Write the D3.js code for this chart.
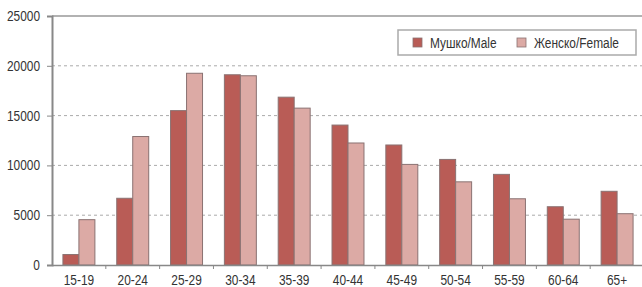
<!DOCTYPE html>
<html>
<head>
<meta charset="utf-8">
<script src="https://cdn.jsdelivr.net/npm/d3@7"></script>
<style>
  body { margin: 0; background: #fff; }
  text { font-family: "Liberation Sans", Arial, sans-serif; fill: #333; }
</style>
</head>
<body>
<svg id="mainSvg" width="642" height="287"></svg>
<script>
var ageGroups = ["15-19","20-24","25-29","30-34","35-39","40-44","45-49","50-54","55-59","60-64","65+"];
var seriesNames = ["Мушко/Male","Женско/Female"];
var maleValues = [1050, 6700, 15500, 19100, 16850, 14050, 12050, 10600, 9100, 5850, 7400];
var femaleValues = [4550, 12900, 19250, 19000, 15750, 12250, 10100, 8350, 6650, 4600, 5150];
var yTicks = [0, 5000, 10000, 15000, 20000, 25000];
var seriesColors = ["#b95c56", "#dcaaa5"];

var svg = d3.select("#mainSvg");

var plotLeft = 52, plotRight = 644, plotTop = 16, plotBottom = 265;

var x = d3.scaleBand().domain(ageGroups).range([plotLeft, plotRight]).padding(0);
var bw = x.bandwidth();
var xs = d3.scaleBand().domain([0,1]).range([bw*0.203, bw*0.797]).padding(0);
var y = d3.scaleLinear().domain([0, 25000]).range([plotBottom, plotTop]);

// squeeze text horizontally like the narrow font in the original
function condense(sel){
    sel.each(function(){
        var len = this.getComputedTextLength();
        d3.select(this).attr("textLength", len * 0.85).attr("lengthAdjust", "spacingAndGlyphs");
    });
}

// grid lines
svg.append("g")
    .selectAll("line")
    .data(yTicks.filter(function(d){ return d > 0 && d < 25000; }))
    .enter()
    .append("line")
    .attr("x1", plotLeft)
    .attr("x2", plotRight)
    .attr("y1", function(d){ return y(d); })
    .attr("y2", function(d){ return y(d); })
    .attr("stroke", "#aaa")
    .attr("stroke-width", 1)
    .attr("stroke-dasharray", "3,3");

// top border
svg.append("line")
    .attr("x1", plotLeft).attr("x2", plotRight)
    .attr("y1", y(25000)).attr("y2", y(25000))
    .attr("stroke", "#999").attr("stroke-width", 1.5);

// bars
var rows = ageGroups.map(function(a, i){
    return { age: a, vals: [maleValues[i], femaleValues[i]] };
});

var groups = svg.append("g").selectAll("g")
    .data(rows)
    .enter()
    .append("g")
    .attr("transform", function(d){ return "translate(" + x(d.age) + ",0)"; });

groups.selectAll("rect")
    .data(function(d){ return d.vals; })
    .enter()
    .append("rect")
    .attr("x", function(d, i){ return xs(i); })
    .attr("y", function(d){ return y(d); })
    .attr("width", xs.bandwidth())
    .attr("height", function(d){ return plotBottom - y(d); })
    .attr("fill", function(d, i){ return seriesColors[i]; })
    .attr("stroke", "#8a7272")
    .attr("stroke-width", 1);

// y axis
var yAxis = svg.append("g")
    .attr("transform", "translate(" + plotLeft + ",0)")
    .call(d3.axisLeft(y).tickValues(yTicks).tickSize(5).tickPadding(7).tickFormat(d3.format("d")));
yAxis.select(".domain").attr("stroke", "#888").attr("stroke-width", 2);
yAxis.selectAll(".tick line").attr("stroke", "#888");
yAxis.selectAll("text").attr("font-size", "14px").attr("fill", "#333").call(condense);

// x axis
var xAxis = svg.append("g")
    .attr("transform", "translate(0," + plotBottom + ")")
    .call(d3.axisBottom(x).tickSize(0).tickPadding(10));
xAxis.select(".domain").attr("stroke", "#888").attr("stroke-width", 1.5);
xAxis.selectAll("text").attr("font-size", "14px").attr("fill", "#333").call(condense);

// category separator ticks
svg.append("g").selectAll("line")
    .data(ageGroups.slice(1))
    .enter()
    .append("line")
    .attr("x1", function(d){ return x(d); })
    .attr("x2", function(d){ return x(d); })
    .attr("y1", plotBottom)
    .attr("y2", plotBottom + 4)
    .attr("stroke", "#888");

// legend
var legend = svg.append("g").attr("transform", "translate(398,30)");
legend.append("rect")
    .attr("width", 238).attr("height", 25)
    .attr("fill", "#fff").attr("stroke", "#aaa").attr("stroke-width", 1.5);

var legendPos = [15, 119];
var items = legend.selectAll(".legItem")
    .data(seriesNames)
    .enter()
    .append("g")
    .attr("class", "legItem")
    .attr("transform", function(d, i){ return "translate(" + legendPos[i] + ",0)"; });

items.append("rect")
    .attr("x", 0).attr("y", 8)
    .attr("width", 9).attr("height", 9)
    .attr("fill", function(d, i){ return seriesColors[i]; })
    .attr("stroke", "#8a7272").attr("stroke-width", 0.8);

items.append("text")
    .attr("x", 17).attr("y", 17.5)
    .attr("font-size", "14px")
    .text(function(d){ return d; })
    .call(condense);
</script>
</body>
</html>
